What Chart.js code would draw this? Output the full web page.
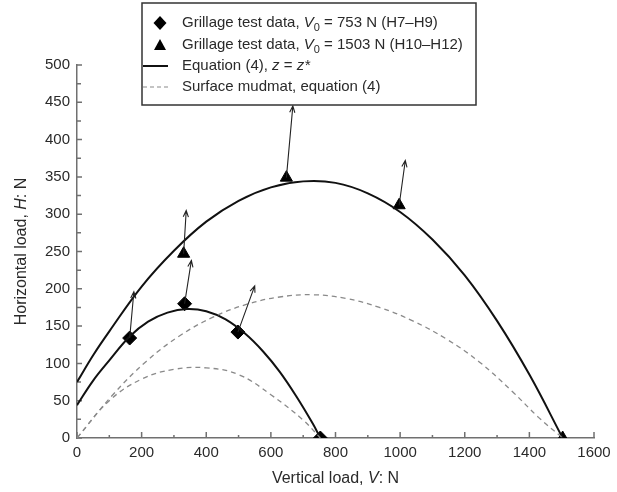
<!DOCTYPE html>
<html>
<head>
<meta charset="utf-8">
<script src="https://cdn.jsdelivr.net/npm/chart.js@4.4.1/dist/chart.umd.min.js"></script>
<style>
  html, body { margin: 0; padding: 0; background: #fff; }
</style>
</head>
<body>
<canvas id="loadChart" width="617" height="492"></canvas>
<script>
// Equation (4) envelope, z = z*, for V0 = 1503 N
var eqBigV = [0, 50, 100, 200, 300, 400, 500, 600, 700, 800, 900, 1000, 1100, 1200, 1300, 1400, 1503];
var eqBigH = [75, 111, 143, 203, 251, 290, 318, 336, 344, 342, 328, 303, 266, 218, 157, 85, 0];
// Equation (4) envelope, z = z*, for V0 = 753 N
var eqSmallV = [0, 50, 100, 163, 220, 280, 340, 400, 460, 520, 576, 627, 680, 730, 753];
var eqSmallH = [44, 77, 104, 136, 156, 168, 173, 170, 159, 140, 116, 89, 55, 19, 0];
// surface mudmat envelopes
var mudBigV = [0, 111, 215, 318, 421, 524, 627, 730, 833, 936, 1039, 1142, 1245, 1348, 1430, 1503];
var mudBigH = [0, 58, 103, 137, 162, 179, 189, 192, 187, 175, 157, 133, 102, 62, 27, 0];
var mudSmallV = [0, 100, 200, 300, 400, 500, 600, 700, 753];
var mudSmallH = [0, 50, 79, 92, 94, 85, 58, 24, 0];

// grillage tests H7-H9 (V0 = 753 N) and H10-H12 (V0 = 1503 N)
var diamondV = [163, 333, 498, 753];
var diamondH = [134, 180, 142, 0];
var triangleV = [330, 648, 997, 1503];
var triangleH = [247, 349, 312, 0];
// load path arrow tips for the first three tests of each series
var diamondTipV = [176, 354, 550];
var diamondTipH = [196, 238, 204];
var triangleTipV = [338, 668, 1016];
var triangleTipH = [305, 445, 372];

var xTicks = [0, 200, 400, 600, 800, 1000, 1200, 1400, 1600];
var yTicks = [0, 50, 100, 150, 200, 250, 300, 350, 400, 450, 500];

var FONT = '"Liberation Sans", Arial, sans-serif';
var TEXT = '#2a2a2a';
var AXIS = '#707070';

function pts(xs, ys) {
  return xs.map(function (x, i) { return {x: x, y: ys[i]}; });
}

function curve(xs, ys, color, width, dash) {
  return {
    data: pts(xs, ys), showLine: true, borderColor: color, borderWidth: width,
    borderDash: dash || [], pointRadius: 0, tension: 0.4, clip: 0
  };
}

function marker(xs, ys, style, r) {
  return {
    data: pts(xs, ys), showLine: false, pointStyle: style, pointRadius: r,
    backgroundColor: '#000', borderColor: '#000', borderWidth: 1, clip: 0
  };
}

// text made of plain / italic / subscript pieces
function richWidth(ctx, parts, size) {
  var w = 0;
  parts.forEach(function (p) {
    ctx.font = (p.i ? 'italic ' : '') + (p.sub ? size - 4 : size) + 'px ' + FONT;
    w += ctx.measureText(p.t).width;
  });
  return w;
}
function drawRich(ctx, parts, x, y, size) {
  ctx.textBaseline = 'middle';
  ctx.textAlign = 'left';
  parts.forEach(function (p) {
    ctx.font = (p.i ? 'italic ' : '') + (p.sub ? size - 4 : size) + 'px ' + FONT;
    ctx.fillText(p.t, x, p.sub ? y + 5 : y);
    x += ctx.measureText(p.t).width;
  });
}

function arrow(ctx, x0, y0, x1, y1) {
  var a = Math.atan2(y1 - y0, x1 - x0), len = 7, spread = 0.38;
  ctx.beginPath();
  ctx.moveTo(x0, y0);
  ctx.lineTo(x1, y1);
  ctx.moveTo(x1 - len * Math.cos(a - spread), y1 - len * Math.sin(a - spread));
  ctx.lineTo(x1, y1);
  ctx.lineTo(x1 - len * Math.cos(a + spread), y1 - len * Math.sin(a + spread));
  ctx.stroke();
}

var decorations = {
  id: 'decorations',
  beforeDatasetsDraw: function (chart) {
    var ctx = chart.ctx, xs = chart.scales.x, ys = chart.scales.y;
    var left = chart.chartArea.left, bottom = chart.chartArea.bottom;
    ctx.save();
    ctx.strokeStyle = AXIS;
    ctx.lineWidth = 1.5;
    ctx.beginPath();
    for (var v = 0; v <= 1600; v += 100) {
      var px = xs.getPixelForValue(v), len = v % 200 === 0 ? 6 : 3;
      ctx.moveTo(px, bottom);
      ctx.lineTo(px, bottom - len);
    }
    for (var h = 0; h <= 500; h += 25) {
      var py = ys.getPixelForValue(h);
      ctx.moveTo(left, py);
      ctx.lineTo(left + (h % 50 === 0 ? 5 : 4), py);
    }
    ctx.stroke();
    ctx.restore();
  },
  afterDatasetsDraw: function (chart) {
    var ctx = chart.ctx, xs = chart.scales.x, ys = chart.scales.y;
    ctx.save();
    ctx.strokeStyle = '#222';
    ctx.lineWidth = 1.1;
    diamondTipV.forEach(function (v, i) {
      arrow(ctx, xs.getPixelForValue(diamondV[i]), ys.getPixelForValue(diamondH[i]),
        xs.getPixelForValue(v), ys.getPixelForValue(diamondTipH[i]));
    });
    triangleTipV.forEach(function (v, i) {
      arrow(ctx, xs.getPixelForValue(triangleV[i]), ys.getPixelForValue(triangleH[i]),
        xs.getPixelForValue(v), ys.getPixelForValue(triangleTipH[i]));
    });
    ctx.restore();
  },
  afterDraw: function (chart) {
    var ctx = chart.ctx, area = chart.chartArea;
    ctx.save();
    ctx.fillStyle = TEXT;

    // axis titles
    var xt = [{t: 'Vertical load, '}, {t: 'V', i: true}, {t: ': N'}];
    drawRich(ctx, xt, (area.left + area.right) / 2 - richWidth(ctx, xt, 16) / 2, 479, 16);
    var yt = [{t: 'Horizontal load, '}, {t: 'H', i: true}, {t: ': N'}];
    ctx.translate(22, (area.top + area.bottom) / 2);
    ctx.rotate(-Math.PI / 2);
    drawRich(ctx, yt, -richWidth(ctx, yt, 16) / 2, 0, 16);
    ctx.setTransform(1, 0, 0, 1, 0, 0);

    // legend box
    var bx = 142, by = 3, bw = 334, bh = 102;
    ctx.fillStyle = '#fff';
    ctx.fillRect(bx, by, bw, bh);
    ctx.strokeStyle = '#333';
    ctx.lineWidth = 1.5;
    ctx.strokeRect(bx, by, bw, bh);

    var rows = [23, 45, 66, 87], mx = 160, tx = 182;
    ctx.fillStyle = '#000';
    ctx.beginPath();
    ctx.moveTo(mx, rows[0] - 7); ctx.lineTo(mx + 6.5, rows[0]);
    ctx.lineTo(mx, rows[0] + 7); ctx.lineTo(mx - 6.5, rows[0]);
    ctx.closePath(); ctx.fill();
    ctx.beginPath();
    ctx.moveTo(mx, rows[1] - 6); ctx.lineTo(mx + 6, rows[1] + 5);
    ctx.lineTo(mx - 6, rows[1] + 5);
    ctx.closePath(); ctx.fill();
    ctx.strokeStyle = '#111';
    ctx.lineWidth = 2;
    ctx.beginPath(); ctx.moveTo(143, rows[2]); ctx.lineTo(168, rows[2]); ctx.stroke();
    ctx.strokeStyle = '#8a8a8a';
    ctx.lineWidth = 1.2;
    ctx.setLineDash([4, 3]);
    ctx.beginPath(); ctx.moveTo(143, rows[3]); ctx.lineTo(168, rows[3]); ctx.stroke();
    ctx.setLineDash([]);

    ctx.fillStyle = TEXT;
    drawRich(ctx, [{t: 'Grillage test data, '}, {t: 'V', i: true}, {t: '0', sub: true}, {t: ' = 753 N (H7\u2013H9)'}], tx, rows[0], 15);
    drawRich(ctx, [{t: 'Grillage test data, '}, {t: 'V', i: true}, {t: '0', sub: true}, {t: ' = 1503 N (H10\u2013H12)'}], tx, rows[1], 15);
    drawRich(ctx, [{t: 'Equation (4), '}, {t: 'z', i: true}, {t: ' = '}, {t: 'z*', i: true}], tx, rows[2], 15);
    drawRich(ctx, [{t: 'Surface mudmat, equation (4)'}], tx, rows[3], 15);
    ctx.restore();
  }
};

function plain(v) { return String(v); }

new Chart('loadChart', {
  type: 'scatter',
  data: {
    datasets: [
      curve(mudBigV, mudBigH, '#8a8a8a', 1.3, [5, 4]),
      curve(mudSmallV, mudSmallH, '#8a8a8a', 1.3, [5, 4]),
      curve(eqBigV, eqBigH, '#111', 2),
      curve(eqSmallV, eqSmallH, '#111', 2),
      marker(diamondV, diamondH, 'rectRot', 7),
      marker(triangleV, triangleH, 'triangle', 7)
    ]
  },
  options: {
    responsive: false,
    animation: false,
    layout: {padding: {top: 65, right: 23, left: 0, bottom: 0}},
    plugins: {legend: {display: false}, tooltip: {enabled: false}},
    scales: {
      x: {
        type: 'linear', min: 0, max: 1600,
        afterBuildTicks: function (s) { s.ticks = xTicks.map(function (v) { return {value: v}; }); },
        afterFit: function (s) { s.height = 54; },
        grid: {display: false, drawTicks: false},
        border: {display: true, color: AXIS, width: 1.5},
        ticks: {color: TEXT, font: {family: FONT, size: 15}, padding: 6, maxRotation: 0, callback: plain}
      },
      y: {
        type: 'linear', min: 0, max: 500,
        afterBuildTicks: function (s) { s.ticks = yTicks.map(function (v) { return {value: v}; }); },
        afterFit: function (s) { s.width = 77; },
        grid: {display: false, drawTicks: false},
        border: {display: true, color: AXIS, width: 1.5},
        ticks: {color: TEXT, font: {family: FONT, size: 15}, padding: 7, callback: plain}
      }
    }
  },
  plugins: [decorations]
});
</script>
</body>
</html>
